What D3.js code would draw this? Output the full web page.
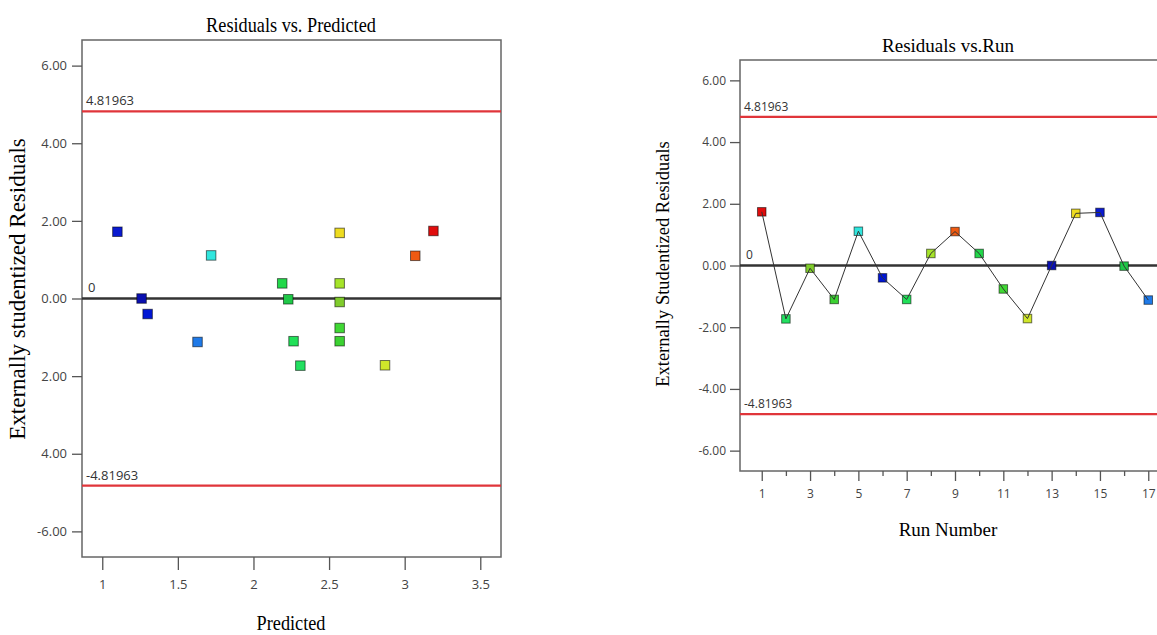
<!DOCTYPE html>
<html>
<head>
<meta charset="utf-8">
<script src="https://cdn.jsdelivr.net/npm/d3@7"></script>
<style>
  body { margin: 0; background: #fff; }
  svg { display: block; }
</style>
</head>
<body>
<div id="chart"></div>
<script>
// Run data
const runs = [1, 2, 3, 4, 5, 6, 7, 8, 9, 10, 11, 12, 13, 14, 15, 16, 17];
const predicted = [3.19, 2.31, 2.57, 2.57, 1.72, 1.30, 2.265, 2.57, 3.07, 2.19, 2.57, 2.87, 1.26, 2.57, 1.10, 2.23, 1.63];
const residuals = [1.74, -1.73, -0.09, -1.10, 1.11, -0.40, -1.10, 0.39, 1.10, 0.39, -0.76, -1.72, 0.00, 1.69, 1.72, -0.02, -1.12];
const pointColors = ["#e00d0d", "#22e060", "#80cc2c", "#3cd232", "#30e6de", "#0016d4", "#20e058", "#a6e42a",
                     "#ee5a12", "#22d84a", "#40d834", "#cfe62a", "#0a10b0", "#eedc20", "#0a1ad0", "#20c848", "#1f7ae8"];

// Limits
const limitHigh = 4.81963;
const limitLow = -4.81963;

// Tick labels
const leftYTicks = [6, 4, 2, 0, -2, -4, -6];
const leftYLabels = ["6.00", "4.00", "2.00", "0.00", "2.00", "4.00", "-6.00"];
const leftXTicks = [1, 1.5, 2, 2.5, 3, 3.5];
const rightYTicks = [6, 4, 2, 0, -2, -4, -6];
const rightYLabels = ["6.00", "4.00", "2.00", "0.00", "-2.00", "-4.00", "-6.00"];
const rightXTicks = [1, 3, 5, 7, 9, 11, 13, 15, 17];

const points = runs.map((r, i) => ({run: r, pred: predicted[i], res: residuals[i], color: pointColors[i]}));

const width = 1157, height = 635;
const svg = d3.select("#chart").append("svg")
    .attr("width", width)
    .attr("height", height);

const tickFont = "'Open Sans', 'DejaVu Sans', sans-serif";
const serif = "'Liberation Serif', 'Times New Roman', serif";

// Draw one panel
function panel(opt) {
    const g = svg.append("g");
    const x = d3.scaleLinear().domain(opt.xDomain).range([opt.left, opt.right]);
    const y = d3.scaleLinear().domain([-6.66, 6.66]).range([opt.bottom, opt.top]);

    // frame
    g.append("rect")
        .attr("x", opt.left).attr("y", opt.top)
        .attr("width", opt.right - opt.left).attr("height", opt.bottom - opt.top)
        .attr("fill", "none").attr("stroke", "#666").attr("stroke-width", 1.5);

    // y axis
    const yAxis = g.append("g")
        .attr("transform", `translate(${opt.left},0)`)
        .call(d3.axisLeft(y).tickValues(opt.yTicks).tickSize(10).tickPadding(opt.yPad)
            .tickFormat((d, i) => opt.yLabels[i]));
    // x axis
    const xAxis = g.append("g")
        .attr("transform", `translate(0,${opt.bottom})`)
        .call(d3.axisBottom(x).tickValues(opt.xTicks).tickSize(opt.xTickLen).tickPadding(opt.xPad)
            .tickFormat(d3.format("")));
    [yAxis, xAxis].forEach(a => {
        a.attr("font-size", null).attr("font-family", null);
        a.select(".domain").remove();
        a.selectAll("line").attr("stroke", "#555").attr("stroke-width", 1.3);
        a.selectAll("text").attr("fill", "#444").style("font-family", tickFont).style("font-size", opt.tickSize + "px");
    });

    // minor x ticks
    if (opt.minorTicks) {
        g.append("g")
            .attr("transform", `translate(0,${opt.bottom})`)
            .call(d3.axisBottom(x).tickValues(opt.minorTicks).tickSize(5).tickFormat(""))
            .call(a => a.select(".domain").remove())
            .selectAll("line").attr("stroke", "#555").attr("stroke-width", 1.3);
    }

    // limit lines
    [limitHigh, limitLow].forEach(v => {
        g.append("line")
            .attr("x1", opt.left).attr("x2", opt.right)
            .attr("y1", y(v)).attr("y2", y(v))
            .attr("stroke", "#e0353a").attr("stroke-width", 2.2);
        g.append("text")
            .attr("x", opt.left + 4).attr("y", y(v) - 6)
            .attr("fill", "#333")
            .style("font-family", tickFont).style("font-size", opt.limitSize + "px")
            .text(v.toFixed(5));
    });

    // zero line
    g.append("line")
        .attr("x1", opt.left).attr("x2", opt.right)
        .attr("y1", y(0)).attr("y2", y(0))
        .attr("stroke", "#333").attr("stroke-width", 2.4);
    g.append("text")
        .attr("x", opt.left + 6).attr("y", y(0) - 7)
        .attr("fill", "#333")
        .style("font-family", tickFont).style("font-size", opt.limitSize + "px")
        .text("0");

    const s = opt.markSize;
    g.append("g").selectAll("rect")
        .data(points)
        .join("rect")
        .attr("x", d => x(d[opt.xKey]) - s / 2)
        .attr("y", d => y(d.res) - s / 2)
        .attr("width", s).attr("height", s)
        .attr("fill", d => d.color)
        .attr("stroke", "rgba(0,0,0,0.55)").attr("stroke-width", 1);

    if (opt.connect) {
        g.append("path")
            .datum(points)
            .attr("fill", "none").attr("stroke", "#333").attr("stroke-width", 1)
            .attr("d", d3.line().x(d => x(d.run)).y(d => y(d.res)));
    }

    // titles
    g.append("text")
        .attr("transform", `translate(${opt.titleX},${opt.titleY}) scale(${opt.sx},1)`)
        .attr("text-anchor", "middle")
        .style("font-family", serif).style("font-size", opt.titleSize + "px")
        .text(opt.title);
    g.append("text")
        .attr("transform", `translate(${opt.titleX},${opt.xLabelY}) scale(${opt.sx},1)`)
        .attr("text-anchor", "middle")
        .style("font-family", serif).style("font-size", opt.labelSize + "px")
        .text(opt.xLabel);
    g.append("text")
        .attr("transform", `translate(${opt.yLabelX},${opt.yLabelY}) rotate(-90)`)
        .attr("text-anchor", "middle")
        .style("font-family", serif).style("font-size", opt.yLabelSize + "px")
        .text(opt.yLabel);
}

panel({
    left: 82, right: 501, top: 40, bottom: 557,
    xDomain: [0.866, 3.637], xKey: "pred",
    yTicks: leftYTicks, yLabels: leftYLabels, yPad: 5,
    xTicks: leftXTicks, xTickLen: 13, xPad: 10, tickSize: 13, limitSize: 13,
    markSize: 9.5, connect: false,
    title: "Residuals vs. Predicted", titleX: 291, titleY: 32, titleSize: 22, sx: 0.83,
    xLabel: "Predicted", xLabelY: 630, labelSize: 22,
    yLabel: "Externally studentized Residuals", yLabelX: 25, yLabelY: 289, yLabelSize: 23
});

panel({
    left: 740, right: 1170, top: 60, bottom: 471,
    xDomain: [0.1, 17.9], xKey: "run",
    yTicks: rightYTicks, yLabels: rightYLabels, yPad: 4,
    xTicks: rightXTicks, xTickLen: 10, xPad: 8, tickSize: 12, limitSize: 12,
    minorTicks: [2, 4, 6, 8, 10, 12, 14, 16],
    markSize: 8.5, connect: true,
    title: "Residuals vs.Run", titleX: 948, titleY: 52, titleSize: 19, sx: 1,
    xLabel: "Run Number", xLabelY: 536, labelSize: 19,
    yLabel: "Externally Studentized Residuals", yLabelX: 669, yLabelY: 264, yLabelSize: 18.5
});
</script>
</body>
</html>
